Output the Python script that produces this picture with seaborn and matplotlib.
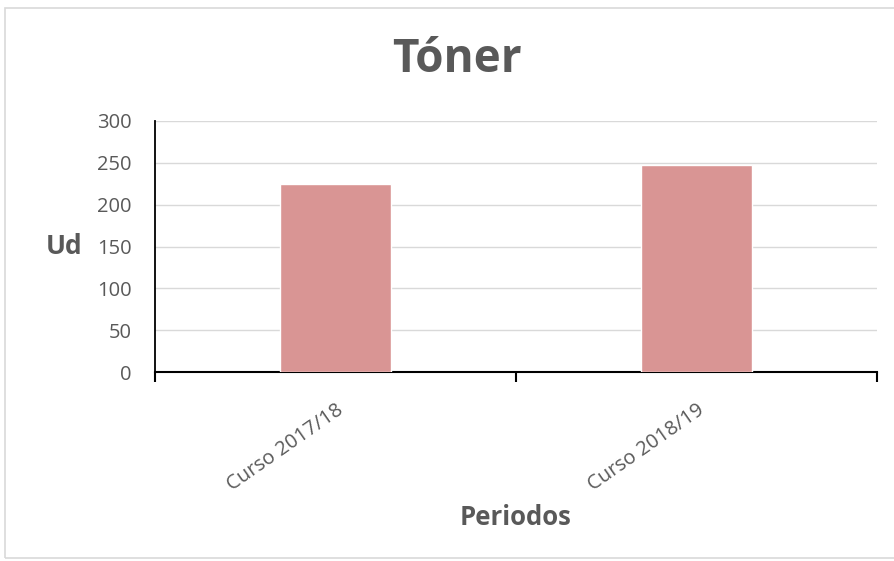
import matplotlib
matplotlib.use("Agg")
import matplotlib.pyplot as plt
import seaborn as sns
import pandas as pd
from matplotlib.patches import Rectangle

categories = ["Curso 2017/18", "Curso 2018/19"]
values = [225, 247]
yticks = [0, 50, 100, 150, 200, 250, 300]

sns.set_theme(style="white")
plt.rcParams['font.family'] = ['Open Sans', 'DejaVu Sans']

df = pd.DataFrame({"Periodo": categories, "Ud": values})

fig = plt.figure(figsize=(8.94, 5.61), dpi=100)
ax = fig.add_axes([155/894, 1-372/561, (877-155)/894, (372-121)/561])

sns.barplot(data=df, x="Periodo", y="Ud", color="#D99594", width=0.31,
            saturation=1, ax=ax, zorder=3)

ax.set_xlim(-0.5, 1.5)
ax.set_ylim(0, 300)
ax.set_yticks(yticks)
ax.set_yticklabels([str(t) for t in yticks], color="#595959", fontsize=14.5)
ax.yaxis.grid(True, color="#d9d9d9", linewidth=1, zorder=0)
ax.tick_params(axis='y', length=0, pad=17)

ax.set_xticks([0, 1])
ax.set_xticklabels(categories, rotation=35, ha="right", rotation_mode="anchor",
                   color="#595959", fontsize=14.5)
ax.set_xticks([-0.5, 0.5, 1.5], minor=True)
ax.tick_params(axis='x', which='major', length=0, pad=20)
ax.tick_params(axis='x', which='minor', length=7, width=1.5, color="black", direction="out", bottom=True)

for s in ["top", "right"]:
    ax.spines[s].set_visible(False)
ax.spines["left"].set_color("black")
ax.spines["left"].set_linewidth(1.3)
ax.spines["bottom"].set_color("black")
ax.spines["bottom"].set_linewidth(1.5)

ax.set_xlabel("Periodos", fontsize=18.5, fontweight="bold", color="#595959")
ax.set_ylabel("Ud", fontsize=19, fontweight="bold", color="#595959", rotation=0)
ax.yaxis.set_label_coords(-0.126, 0.5)
ax.yaxis.label.set_va("center")
ax.yaxis.label.set_ha("center")
ax.xaxis.set_label_coords(0.5, -0.58)
ax.xaxis.label.set_va("center")

fig.text(457/894, 1-60/561, "Tóner", ha="center", va="center", fontsize=33,
         fontweight="bold", color="#595959")

fig.patches.append(Rectangle((5/894, 0.005), 1.0, 1-8/561-0.005, transform=fig.transFigure,
                             fill=False, edgecolor="#d9d9d9", linewidth=1.2))

fig.savefig("out.png", dpi=100)
